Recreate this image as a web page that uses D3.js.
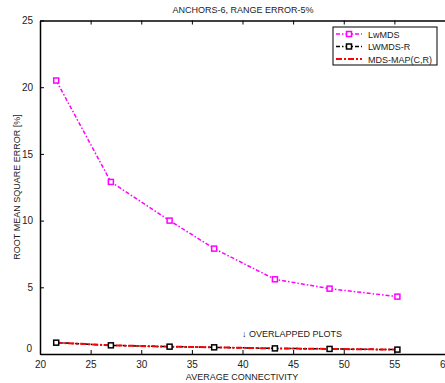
<!DOCTYPE html>
<html>
<head>
<meta charset="utf-8">
<script src="https://cdn.jsdelivr.net/npm/d3@7"></script>
<style>
  body { margin: 0; background: #fff; }
  svg { display: block; font-family: "Liberation Sans", Arial, sans-serif; }
</style>
</head>
<body>
<svg id="chart"></svg>
<script>
let connectivity = [21.6, 27.0, 32.8, 37.2, 43.2, 48.6, 55.3]
let lwmds = [20.5, 12.9, 10.0, 7.9, 5.6, 4.9, 4.3]
let lwmdsR = [0.85, 0.65, 0.55, 0.5, 0.42, 0.38, 0.33]
let mdsMap = [0.85, 0.65, 0.55, 0.5, 0.42, 0.38, 0.33]
let xTicks = [20, 25, 30, 35, 40, 45, 50, 55, 60]
let yTicks = [0, 5, 10, 15, 20, 25]
let seriesNames = ['LwMDS', 'LWMDS-R', 'MDS-MAP(C,R)']

let w = 445
let h = 383

let svg = d3.select('#chart').attr('width', w).attr('height', h)

let xScale = d3.scaleLinear().domain([20, 60]).range([40, 445])
let yScale = d3.scaleLinear().domain([0, 25]).range([354, 20.5])

// frame (matlab style, ticks inside)
let xAxisB = d3.axisBottom(xScale).tickValues(xTicks).tickSizeInner(-4).tickSizeOuter(0).tickPadding(7)
let xAxisT = d3.axisTop(xScale).tickValues(xTicks).tickSizeInner(-4).tickSizeOuter(0).tickFormat('')
let yAxisL = d3.axisLeft(yScale).tickValues(yTicks).tickSizeInner(-4).tickSizeOuter(0).tickPadding(7)

let styleAxis = (g) => {
  g.select('.domain').attr('stroke', '#000').attr('stroke-width', 1.5)
  g.selectAll('.tick line').attr('stroke', '#000')
  g.selectAll('.tick text').attr('font-size', 10).attr('fill', '#222')
}

svg.append('g').attr('transform', 'translate(0,354)').call(xAxisB).call(styleAxis)
svg.append('g').attr('transform', 'translate(0,20.5)').call(xAxisT).call(styleAxis)
svg.append('g').attr('transform', 'translate(40,0)').call(yAxisL).call(styleAxis)

// matlab puts the 0 labels a little off the corner
svg.selectAll('.tick text').filter(d => d === 0).attr('dy', '-0.3em').attr('dx', '-0.1em')

let makeLine = (vals) => d3.line()
  .x((d, i) => xScale(connectivity[i]))
  .y(d => yScale(d))(vals)

svg.append('path').attr('d', makeLine(lwmdsR))
  .attr('fill', 'none').attr('stroke', '#000').attr('stroke-width', 1.5)
  .attr('stroke-dasharray', '4,2,1.5,2')

// red one sits on top of the black line
svg.append('path').attr('d', makeLine(mdsMap))
  .attr('fill', 'none').attr('stroke', '#ff0000').attr('stroke-width', 2)
  .attr('stroke-dasharray', '6,2,2,2')

svg.append('path').attr('d', makeLine(lwmds))
  .attr('fill', 'none').attr('stroke', '#ff00ff').attr('stroke-width', 1.5)
  .attr('stroke-dasharray', '4,2,1.5,2')

let drawMarkers = (vals, color) => {
  svg.append('g').selectAll('rect')
    .data(vals)
    .enter()
    .append('rect')
    .attr('x', (d, i) => xScale(connectivity[i]) - 2.5)
    .attr('y', d => yScale(d) - 2.5)
    .attr('width', 5).attr('height', 5)
    .attr('fill', '#fff').attr('stroke', color).attr('stroke-width', 1.5)
}
drawMarkers(lwmdsR, '#000')
drawMarkers(lwmds, '#ff00ff')

// title and labels
svg.append('text').attr('x', 243).attr('y', 13).attr('text-anchor', 'middle')
  .attr('font-size', 9).attr('fill', '#222').text('ANCHORS-6, RANGE ERROR-5%')
svg.append('text').attr('x', 242).attr('y', 380).attr('text-anchor', 'middle')
  .attr('font-size', 9).attr('fill', '#222').text('AVERAGE CONNECTIVITY')
svg.append('text').attr('transform', 'translate(20,187) rotate(-90)').attr('text-anchor', 'middle')
  .attr('font-size', 9).attr('fill', '#222').text('ROOT MEAN SQUARE ERROR [%]')

svg.append('text').attr('x', 242).attr('y', 337)
  .attr('font-size', 9).attr('fill', '#222').text('↓ OVERLAPPED PLOTS')

// legend
let lg = svg.append('g')
lg.append('rect').attr('x', 333).attr('y', 27).attr('width', 104).attr('height', 38)
  .attr('fill', '#fff').attr('stroke', '#000').attr('stroke-width', 1)
let legColors = ['#ff00ff', '#000', '#ff0000']
seriesNames.forEach((name, i) => {
  let y = 34 + i * 12.5
  lg.append('line').attr('x1', 336).attr('x2', 362).attr('y1', y).attr('y2', y)
    .attr('stroke', legColors[i]).attr('stroke-width', i === 2 ? 2 : 1.5)
    .attr('stroke-dasharray', i === 2 ? '6,2,2,2' : '4,2,1.5,2')
  if (i < 2) {
    lg.append('rect').attr('x', 346.5).attr('y', y - 2.5).attr('width', 5).attr('height', 5)
      .attr('fill', '#fff').attr('stroke', legColors[i]).attr('stroke-width', 1.5)
  }
  lg.append('text').attr('x', 368).attr('y', y + 3.5).attr('font-size', 9)
    .attr('fill', '#222').text(name)
})
</script>
</body>
</html>
